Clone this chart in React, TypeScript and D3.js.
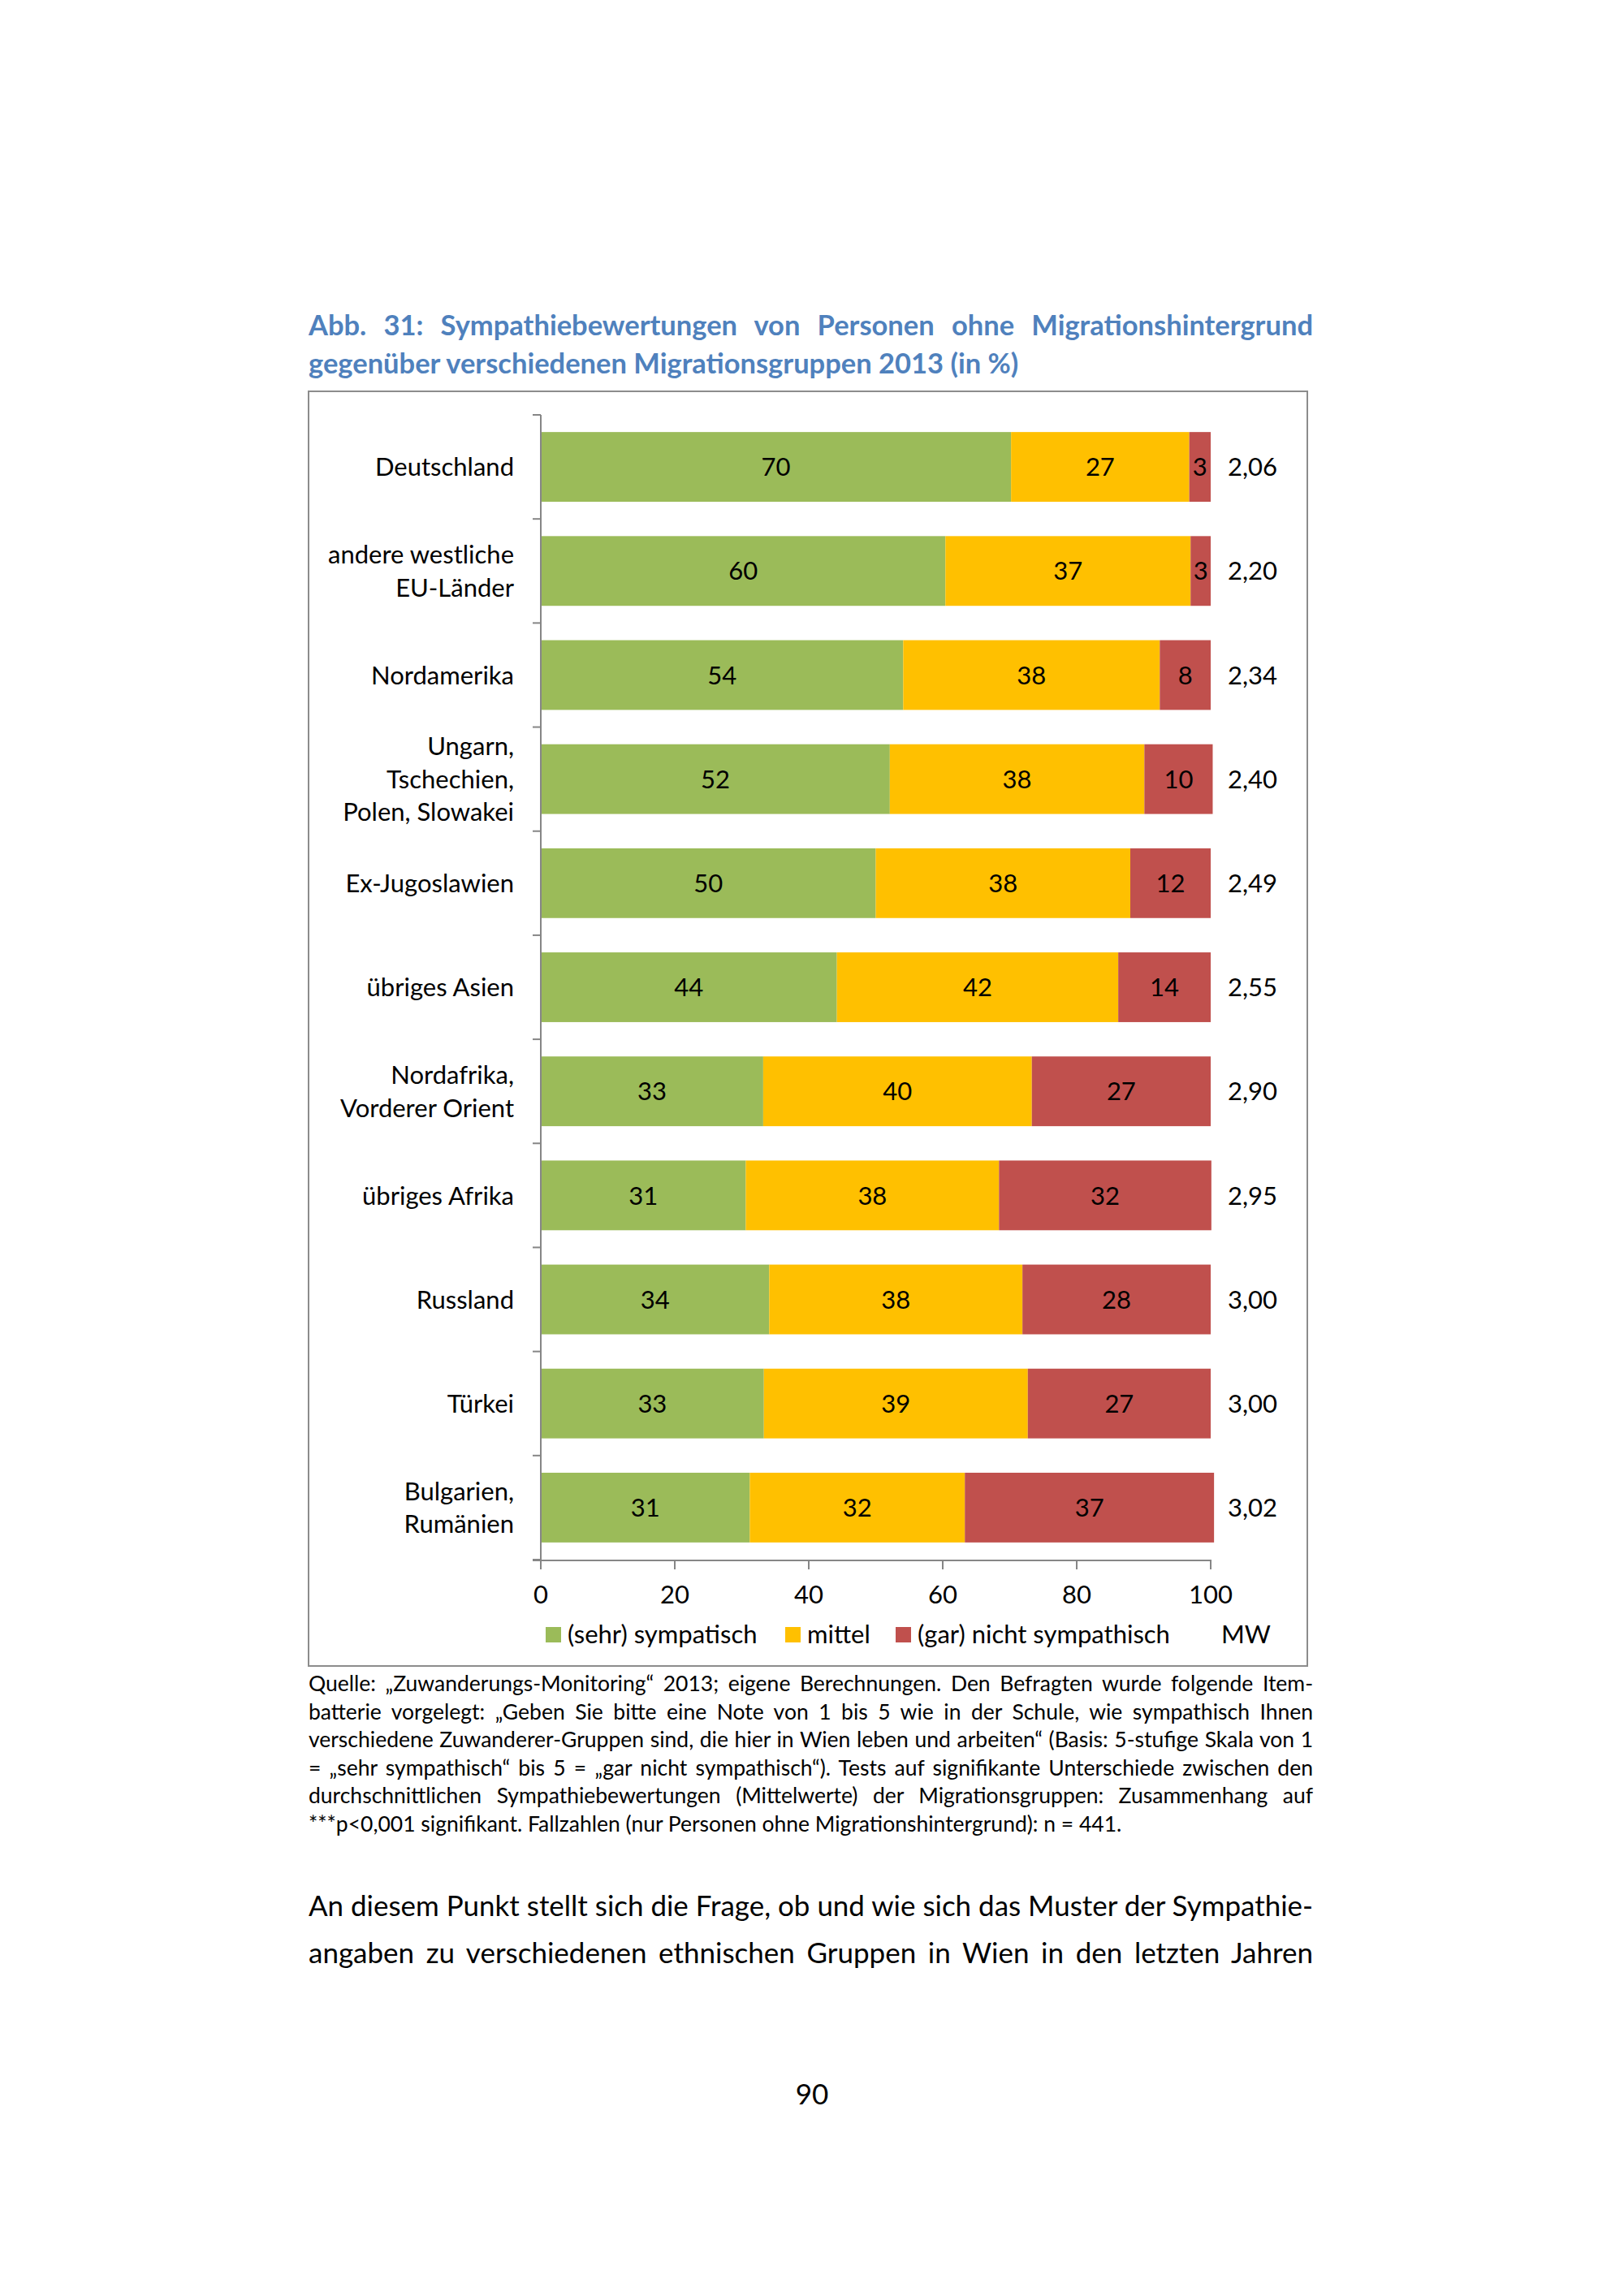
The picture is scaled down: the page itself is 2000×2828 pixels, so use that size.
import React, { useEffect, useRef } from 'react';
import * as d3 from 'd3';

// Kategorien (Zeilenumbruch mit \n wie in der Vorlage)
const categories = [
    'Deutschland',
    'andere westliche\nEU-Länder',
    'Nordamerika',
    'Ungarn,\nTschechien,\nPolen, Slowakei',
    'Ex-Jugoslawien',
    'übriges Asien',
    'Nordafrika,\nVorderer Orient',
    'übriges Afrika',
    'Russland',
    'Türkei',
    'Bulgarien,\nRumänien',
];

// Anteile in % (aus der Grafik geschätzt)
const sympathisch = [70.2, 60.4, 54.1, 52.1, 50.0, 44.2, 33.2, 30.6, 34.1, 33.3, 31.2];
const mittel = [26.6, 36.6, 38.3, 38.0, 38.0, 42.0, 40.1, 37.8, 37.8, 39.4, 32.1];
const nichtSympathisch = [3.2, 3.0, 7.6, 10.2, 12.0, 13.8, 26.7, 31.7, 28.1, 27.3, 37.2];

// Mittelwerte
const mittelwerte = ['2,06', '2,20', '2,34', '2,40', '2,49', '2,55', '2,90', '2,95', '3,00', '3,00', '3,02'];

const xTicks = [0, 20, 40, 60, 80, 100];
const seriesKeys = ['s', 'm', 'n'];
const seriesNames = ['(sehr) sympatisch', 'mittel', '(gar) nicht sympathisch'];
const seriesColors = ['#9BBB59', '#FFC000', '#C0504D'];

const titleLines = [
    'Abb. 31: Sympathiebewertungen von Personen ohne Migrationshintergrund',
    'gegenüber verschiedenen Migrationsgruppen 2013 (in %)',
];

const captionLines = [
    'Quelle: „Zuwanderungs-Monitoring“ 2013; eigene Berechnungen. Den Befragten wurde folgende Item-',
    'batterie vorgelegt: „Geben Sie bitte eine Note von 1 bis 5 wie in der Schule, wie sympathisch Ihnen',
    'verschiedene Zuwanderer-Gruppen sind, die hier in Wien leben und arbeiten“ (Basis: 5-stufige Skala von 1',
    '= „sehr sympathisch“ bis 5 = „gar nicht sympathisch“). Tests auf signifikante Unterschiede zwischen den',
    'durchschnittlichen Sympathiebewertungen (Mittelwerte) der Migrationsgruppen: Zusammenhang auf',
    '***p<0,001 signifikant. Fallzahlen (nur Personen ohne Migrationshintergrund): n = 441.',
];

const bodyLines = [
    'An diesem Punkt stellt sich die Frage, ob und wie sich das Muster der Sympathie-',
    'angaben zu verschiedenen ethnischen Gruppen in Wien in den letzten Jahren',
];

const pageNumber = '90';

const FONT = 'Lato, "Open Sans", sans-serif';
const LABEL_SIZE = 31;

const App: React.FC = () => {
    const svgRef = useRef<SVGSVGElement>(null);

    useEffect(() => {
        if (!svgRef.current) return;

        const draw = () => {
            const svg = d3.select(svgRef.current);
            svg.selectAll('*').remove();

            const left = 380;
            const right = 1617;

            // Blocksatz: Wortabstand so setzen, dass die Zeile die volle Breite füllt
            const justify = (t: any, width: number) => {
                const natural = t.node().getComputedTextLength();
                const spaces = (t.text().match(/ /g) || []).length;
                if (natural < width && spaces > 0) {
                    t.style('word-spacing', `${(width - natural) / spaces}px`);
                } else if (natural > width) {
                    t.attr('textLength', width).attr('lengthAdjust', 'spacingAndGlyphs');
                }
            };

            // Titel
            titleLines.forEach((line, i) => {
                const t = svg.append('text')
                    .attr('x', left)
                    .attr('y', 413 + i * 47)
                    .attr('font-family', FONT)
                    .attr('font-weight', 'bold')
                    .attr('font-size', 34.5)
                    .attr('fill', '#4F81BD')
                    .text(line);
                if (i === 0) justify(t, right - left);
            });

            // Rahmen
            svg.append('rect')
                .attr('x', 380)
                .attr('y', 482)
                .attr('width', 1230)
                .attr('height', 1570)
                .attr('fill', 'none')
                .attr('stroke', '#8c8c8c')
                .attr('stroke-width', 2);

            // Skalen
            const x = d3.scaleLinear().domain([0, 100]).range([666, 1491]);
            const y = d3.scaleBand<string>()
                .domain(categories)
                .range([511, 1921])
                .paddingInner(0.33)
                .paddingOuter(0.165);

            const rows = categories.map((c, i) => ({
                cat: c,
                s: sympathisch[i],
                m: mittel[i],
                n: nichtSympathisch[i],
            }));
            const stack = d3.stack<any>().keys(seriesKeys);
            const series = stack(rows);

            // Balken
            series.forEach((ser, si) => {
                const g = svg.append('g');
                g.selectAll('rect')
                    .data(ser)
                    .enter()
                    .append('rect')
                    .attr('x', (d: any) => x(d[0]))
                    .attr('y', (d: any) => y(d.data.cat)!)
                    .attr('width', (d: any) => x(d[1]) - x(d[0]))
                    .attr('height', y.bandwidth())
                    .attr('fill', seriesColors[si]);

                g.selectAll('text')
                    .data(ser)
                    .enter()
                    .append('text')
                    .attr('x', (d: any) => (x(d[0]) + x(d[1])) / 2)
                    .attr('y', (d: any) => y(d.data.cat)! + y.bandwidth() / 2)
                    .attr('dy', '0.36em')
                    .attr('text-anchor', 'middle')
                    .attr('font-family', FONT)
                    .attr('font-size', LABEL_SIZE)
                    .attr('fill', '#000')
                    .text((d: any) => Math.round(d[1] - d[0]));
            });

            // Mittelwerte rechts
            svg.append('g')
                .selectAll('text')
                .data(mittelwerte)
                .enter()
                .append('text')
                .attr('x', 1512)
                .attr('y', (_d, i) => y(categories[i])! + y.bandwidth() / 2)
                .attr('dy', '0.36em')
                .attr('font-family', FONT)
                .attr('font-size', LABEL_SIZE)
                .attr('fill', '#000')
                .text(d => d);

            const axisColor = '#868686';
            const [y0, y1] = y.range();

            // Y-Achse mit Teilstrichen zwischen den Kategorien
            svg.append('line')
                .attr('x1', x(0)).attr('x2', x(0))
                .attr('y1', y0).attr('y2', y1 + 1)
                .attr('stroke', axisColor).attr('stroke-width', 2);
            d3.range(categories.length + 1).forEach(i => {
                const yy = y0 + i * y.step();
                svg.append('line')
                    .attr('x1', x(0) - 10).attr('x2', x(0))
                    .attr('y1', yy).attr('y2', yy)
                    .attr('stroke', axisColor).attr('stroke-width', 2);
            });

            // Kategoriebeschriftung
            categories.forEach(cat => {
                const lines = cat.split('\n');
                const cy = y(cat)! + y.bandwidth() / 2;
                const t = svg.append('text')
                    .attr('text-anchor', 'end')
                    .attr('font-family', FONT)
                    .attr('font-size', LABEL_SIZE)
                    .attr('fill', '#000');
                lines.forEach((l, li) => {
                    t.append('tspan')
                        .attr('x', 633)
                        .attr('y', cy + (li - (lines.length - 1) / 2) * 40.5)
                        .attr('dy', '0.36em')
                        .text(l);
                });
            });

            // X-Achse
            svg.append('line')
                .attr('x1', x(0) - 10).attr('x2', x(100) + 1)
                .attr('y1', y1 + 1).attr('y2', y1 + 1)
                .attr('stroke', axisColor).attr('stroke-width', 2);
            xTicks.forEach(tk => {
                svg.append('line')
                    .attr('x1', x(tk)).attr('x2', x(tk))
                    .attr('y1', y1 + 1).attr('y2', y1 + 12)
                    .attr('stroke', axisColor).attr('stroke-width', 2);
                svg.append('text')
                    .attr('x', x(tk))
                    .attr('y', 1975)
                    .attr('text-anchor', 'middle')
                    .attr('font-family', FONT)
                    .attr('font-size', LABEL_SIZE)
                    .attr('fill', '#000')
                    .text(tk);
            });

            // Legende
            const legendX = [672, 967, 1103];
            const legendY = 2013;
            seriesNames.forEach((name, i) => {
                svg.append('rect')
                    .attr('x', legendX[i])
                    .attr('y', legendY - 9)
                    .attr('width', 19)
                    .attr('height', 19)
                    .attr('fill', seriesColors[i]);
                svg.append('text')
                    .attr('x', legendX[i] + 27)
                    .attr('y', legendY)
                    .attr('dy', '0.36em')
                    .attr('font-family', FONT)
                    .attr('font-size', LABEL_SIZE)
                    .attr('fill', '#000')
                    .text(name);
            });
            svg.append('text')
                .attr('x', 1504)
                .attr('y', legendY)
                .attr('dy', '0.36em')
                .attr('font-family', FONT)
                .attr('font-size', LABEL_SIZE)
                .attr('fill', '#000')
                .text('MW');

            // Quellenangabe
            captionLines.forEach((line, i) => {
                const t = svg.append('text')
                    .attr('x', left)
                    .attr('y', 2083 + i * 34.6)
                    .attr('font-family', FONT)
                    .attr('font-size', 26.5)
                    .attr('fill', '#000')
                    .text(line);
                if (i < captionLines.length - 1) justify(t, right - left);
            });

            // Fließtext
            bodyLines.forEach((line, i) => {
                const t = svg.append('text')
                    .attr('x', left)
                    .attr('y', 2360 + i * 57.5)
                    .attr('font-family', FONT)
                    .attr('font-size', 35)
                    .attr('fill', '#000')
                    .text(line);
                justify(t, right - left);
            });

            // Seitenzahl
            svg.append('text')
                .attr('x', 1000)
                .attr('y', 2592)
                .attr('text-anchor', 'middle')
                .attr('font-family', FONT)
                .attr('font-size', 35)
                .attr('fill', '#000')
                .text(pageNumber);
        };

        draw();
        if ((document as any).fonts) (document as any).fonts.ready.then(draw);
    }, []);

    return (
        <svg
            ref={svgRef}
            width="2000"
            height="2828"
            style={{ position: 'absolute', left: 0, top: 0, background: '#fff' }}
        ></svg>
    );
};

export default App;
